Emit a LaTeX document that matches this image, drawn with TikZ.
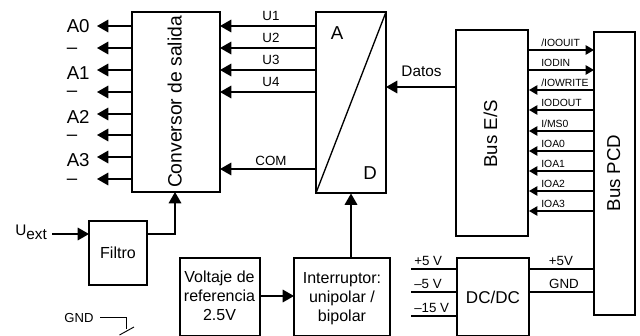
\documentclass[tikz,border=0pt]{standalone}
\usepackage{fontspec}
\setmainfont{Liberation Sans}
\usetikzlibrary{arrows.meta}
\tikzset{
 x=0.75pt,y=-0.75pt,
 bigbox/.style={draw,line width=1.5pt,inner sep=0pt,outer sep=0pt},
 smallbox/.style={draw,line width=1pt,inner sep=0pt,outer sep=0pt},
 sig/.style={line width=0.95pt},
 wire/.style={sig,-{Triangle[length=8.5pt,width=9.5pt]}},
 wires/.style={sig,-{Triangle[length=6.2pt,width=7pt]}},
 lab/.style={inner sep=0pt,font=\fontsize{14}{16}\selectfont},
 vlab/.style={rotate=90,inner sep=0pt,anchor=base,font=\fontsize{14}{16}\selectfont},
 labm/.style={inner sep=0pt,font=\fontsize{10}{12}\selectfont},
 labs/.style={inner sep=0pt,font=\fontsize{7.8}{9}\selectfont,anchor=west},
 labb/.style={inner sep=0pt,font=\fontsize{12}{14.3}\selectfont,align=center},
}
\newcommand{\boxat}[6]{\node[#1,minimum width=#4*0.75pt,minimum height=#5*0.75pt,anchor=north west] (#6) at (#2,#3) {};}
\begin{document}
\begin{tikzpicture}
\useasboundingbox (0,0) rectangle (640,336);
\clip (0,0) rectangle (640,336);
\boxat{bigbox}{132}{12}{88}{180}{conv}
\boxat{bigbox}{316}{12}{70}{181}{ad}
\boxat{bigbox}{456}{30}{72}{206}{es}
\boxat{bigbox}{594}{32}{41}{283}{pcd}
\boxat{smallbox}{89}{221}{58}{64}{fil}
\boxat{smallbox}{180}{258}{80}{78}{volt}
\boxat{smallbox}{294}{258}{96}{78}{inte}
\boxat{smallbox}{457}{258}{72}{78}{dc}
\node[vlab,font=\fontsize{14.5}{16}\selectfont] (tconv) at (181.5,102) {Conversor de salida};
\node[vlab] (tes) at (497,134) {Bus E/S};
\node[vlab] (tpcd) at (620,173) {Bus PCD};
\node[lab] (ta) at (337,33) {A};
\node[lab] (td) at (370,173) {D};
\draw[line width=1pt] (ad.south west) -- (ad.north east);
% outputs
\foreach \y/\b/\t [count=\i] in {26/32/A0,48/53/--,70/79/A1,92/96/--,114/123/A2,135/140/--,157/166/A3,179/184/--}{
  \coordinate (o\i) at (97,\y);
  \coordinate (c\i) at (132,\y);
  \draw[wire] (c\i) -- (o\i);
  \node[inner sep=0pt,font=\fontsize{14}{16}\selectfont,anchor=base west] (ol\i) at (66.5,\b) {\t};
}
% U
\foreach \y/\t [count=\i] in {26/U1,48/U2,70/U3,92/U4}{
  \coordinate (ua\i) at (316,\y);
  \coordinate (ub\i) at (220,\y);
  \draw[wire] (ua\i) -- (ub\i);
  \node[labm] (ul\i) at (271,\y-10) {\t};
}
\coordinate (coma) at (316,169); \coordinate (comb) at (220,169);
\draw[wire] (coma) -- (comb);
\node[labm] (com) at (271,161) {COM};
% Datos
\coordinate (da) at (456,87); \coordinate (db) at (386,87);
\draw[wire] (da) -- (db);
\node[inner sep=0pt,font=\fontsize{11.5}{13}\selectfont] (dat) at (421.5,71) {Datos};
% bus right
\foreach \y/\t [count=\i] in {50/{/IOOUIT},70/IODIN}{
  \coordinate (ra\i) at (528,\y); \coordinate (rb\i) at (594,\y);
  \draw[wires] (ra\i) -- (rb\i);
  \node[labs] (rl\i) at (541,\y-7) {\t};
}
\foreach \y/\t [count=\i] in {90/{/IOWRITE},110/IODOUT,131/{I/MS0},151/IOA0,171/IOA1,191/IOA2,211/IOA3}{
  \coordinate (la\i) at (594,\y); \coordinate (lb\i) at (529,\y);
  \draw[wires] (la\i) -- (lb\i);
  \node[labs] (ll\i) at (541,\y-7) {\t};
}
% bottom
\node[inner sep=0pt,font=\fontsize{11.5}{13}\selectfont,anchor=base west] (uext) at (15,235) {U\raisebox{-3.7pt}{ext}};
\coordinate (us) at (52,234);
\draw[wire] (us) -- (fil.west |- us);
\coordinate (fo) at (147,234);
\draw[wire] (fo) -| (conv.south -| 175,0);
\node[labb] (tf) at (118,253) {Filtro};
\node[labb] (tv) at (219.5,296) {Voltaje de\\referencia\\2.5V};
\node[labb] (ti) at (342,298.5) {Interruptor:\\unipolar /\\bipolar};
\coordinate (vo) at (260,296); \coordinate (vi) at (294,296);
\draw[wire] (vo) -- (vi);
\coordinate (ii) at (351,258); \coordinate (ia) at (351,193.5);
\draw[wire] (ii) -- (ia);
\node[inner sep=0pt,font=\fontsize{12.8}{15}\selectfont] (tdc) at (493,297) {DC/DC};
\foreach \y/\t [count=\i] in {269/+5 V,292/--5 V,316/--15 V}{
  \coordinate (dl\i) at (411,\y); \coordinate (dr\i) at (457,\y);
  \draw[sig] (dl\i) -- (dr\i);
  \node[labm,anchor=west] (dt\i) at (414,\y-8.3) {\t};
}
\foreach \y/\x/\t [count=\i] in {269/561/+5V,292/564/GND}{
  \coordinate (el\i) at (529,\y); \coordinate (er\i) at (594,\y);
  \draw[sig] (el\i) -- (er\i);
  \node[labm] (et\i) at (\x,\y-8) {\t};
}
\node[inner sep=0pt,font=\fontsize{9.8}{11}\selectfont] (gnd) at (79,317.5) {GND};
\coordinate (g1) at (100,317); \coordinate (g2) at (126,317); \coordinate (g3) at (126,328.5);
\coordinate (g4) at (119.5,335); \coordinate (g5) at (134,327);
\draw[line width=0.7pt] (g1) -- (g2) -- (g3);
\draw[line width=0.7pt] (g4) -- (g5);
\end{tikzpicture}
\end{document}
